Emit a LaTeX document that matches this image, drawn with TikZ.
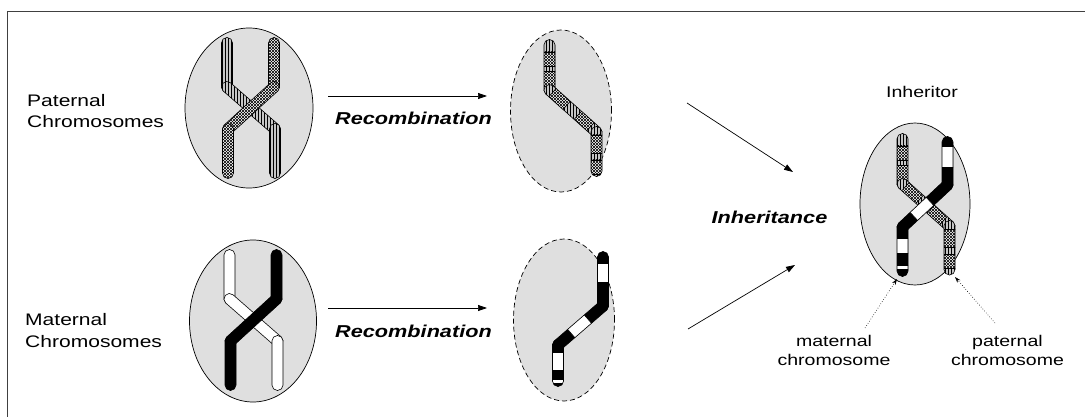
\documentclass[tikz,border=0pt]{standalone}
\usepackage{fontspec}
\setmainfont{Liberation Sans}[FakeStretch=1.26]
\usetikzlibrary{shapes.geometric,patterns,arrows.meta}

% One straight piece of a chromosome: a capsule from (#3,#4) to (#5,#6),
% filled with style #1, with bands of style #2 at the axis positions #7 (a/b list).
\newcommand\chseg[7]{%
  \pgfmathsetmacro\chang{atan2((#4)-(#6),(#5)-(#3))}%
  \pgfmathsetmacro\chlen{veclen((#5)-(#3),(#6)-(#4))}%
  \begin{scope}[shift={(#3,#4)},rotate=\chang]
    \begin{scope}
      \clip[rounded corners=5.4pt] (-5.5,-5.5) rectangle (\chlen+5.5,5.5);
      \fill[#1] (-7,-7) rectangle (\chlen+7,7);
      \foreach \ba/\bb in {#7}{%
        \fill[#2] (\ba,-7) rectangle (\bb,7);
        \draw[chedge] (\ba,-7) -- (\ba,7) (\bb,-7) -- (\bb,7);}
    \end{scope}
    \draw[chedge,rounded corners=5.4pt] (-5.5,-5.5) rectangle (\chlen+5.5,5.5);
  \end{scope}}

\tikzset{
  frame/.style={draw=black!75, line width=1pt},
  cell/.style={ellipse, draw=black, line width=0.7pt, fill=gray!25, inner sep=0pt},
  recell/.style={cell, dash pattern=on 5pt off 3pt},
  stripefill/.style={fill=gray!45, postaction={pattern=vertical lines}},
  crossfill/.style={fill=white, postaction={pattern=north east lines}, postaction={pattern=north west lines}},
  blackfill/.style={fill=black},
  whitefill/.style={fill=white},
  chedge/.style={draw=black, line width=0.6pt},
  flow/.style={draw=black, line width=0.7pt, -{Triangle[length=9pt,width=6pt]}},
  pointer/.style={draw=black, line width=0.6pt, dotted, -{Stealth[length=6pt,width=4pt]}},
  lbl/.style={font=\fontsize{16.7}{21}\selectfont, inner sep=0pt},
  small/.style={font=\fontsize{15.5}{19}\selectfont, inner sep=0pt},
  act/.style={font=\fontsize{17.2}{21}\selectfont\bfseries\itshape, inner sep=0pt},
}

\begin{document}
\begin{tikzpicture}[x=1pt,y=-1pt]
\useasboundingbox (0,0) rectangle (1085,417);

% frame
\draw[frame] (7,417) -- (7,12) -- (1085,12);

% cells
\node[cell, minimum width=128pt, minimum height=160pt] (pat) at (249,108) {};
\node[cell, minimum width=127pt, minimum height=162pt] (mat) at (253,321) {};
\node[recell, minimum width=101pt, minimum height=162pt] (prec) at (561,111) {};
\node[recell, minimum width=101pt, minimum height=162pt] (mrec) at (564,320) {};
\node[cell, minimum width=110pt, minimum height=162pt] (inh) at (915,204) {};

% paternal pair
\chseg{stripefill}{stripefill}{227}{43}{227}{87}{-60/-59}
\chseg{stripefill}{stripefill}{227}{87}{275}{129}{-60/-59}
\chseg{stripefill}{stripefill}{275}{129}{275}{173}{-60/-59}
\chseg{crossfill}{crossfill}{274}{43}{274}{87}{-60/-59}
\chseg{crossfill}{crossfill}{274}{87}{228}{129}{-60/-59}
\chseg{crossfill}{crossfill}{228}{129}{228}{173}{-60/-59}

% maternal pair
\chseg{whitefill}{whitefill}{229.5}{255}{229.5}{299}{-60/-59}
\chseg{whitefill}{whitefill}{229.5}{299}{277.5}{341}{-60/-59}
\chseg{whitefill}{whitefill}{277.5}{341}{277.5}{385}{-60/-59}
\chseg{blackfill}{blackfill}{276.5}{255}{276.5}{299}{-60/-59}
\chseg{blackfill}{blackfill}{276.5}{299}{230.5}{341}{-60/-59}
\chseg{blackfill}{blackfill}{230.5}{341}{230.5}{385}{-60/-59}

% recombined paternal chromosome
\chseg{stripefill}{crossfill}{549.5}{45}{549.5}{90}{7/21.7,26.7/41}
\chseg{stripefill}{crossfill}{549.5}{90}{596.5}{132}{4/23,38/55}
\chseg{stripefill}{crossfill}{596.5}{132}{596.5}{171}{3/21,28/42}

% recombined maternal chromosome
\chseg{blackfill}{whitefill}{603}{257}{603}{306}{6/25}
\chseg{blackfill}{whitefill}{603}{306}{558}{345}{20/42}
\chseg{blackfill}{whitefill}{558}{345}{558}{381}{7/25,34/38.5}

% inherited pair
\chseg{stripefill}{crossfill}{902.5}{139}{902.5}{184}{7/21.7,26.7/41}
\chseg{stripefill}{crossfill}{902.5}{184}{949.5}{226}{4/23,38/55}
\chseg{stripefill}{crossfill}{949.5}{226}{949.5}{269.5}{3/21,28/42}
\chseg{blackfill}{whitefill}{947.5}{142}{947.5}{185}{4/25}
\chseg{blackfill}{whitefill}{947.5}{185}{902.5}{227}{24/46}
\chseg{blackfill}{whitefill}{902.5}{227}{902.5}{271}{11/26,38/42.5}

% labels
\node[lbl, anchor=base west] (patlbl) at (27,107) {Paternal};
\node[lbl, anchor=base west] (patlblb) at (27,128) {Chromosomes};
\node[lbl, anchor=base west] (matlbl) at (25,325) {Maternal};
\node[lbl, anchor=base west] (matlblb) at (25,347) {Chromosomes};
\node[act, anchor=base] (rec1) at (413.5,125) {Recombination};
\node[act, anchor=base] (rec2) at (413.5,337) {Recombination};
\node[act, anchor=base] (inhlbl) at (769.5,223) {Inheritance};
\node[small, anchor=base west] (heir) at (886,98) {Inheritor};
\node[small, anchor=base] (mlab) at (834,346) {maternal};
\node[small, anchor=base] (mlabb) at (834,365) {chromosome};
\node[small, anchor=base] (plab) at (1007.5,346) {paternal};
\node[small, anchor=base] (plabb) at (1007.5,365) {chromosome};

% arrows
\coordinate (r1a) at (328,96);  \coordinate (r1b) at (487,96);
\coordinate (r2a) at (328,308); \coordinate (r2b) at (487,308);
\coordinate (i1a) at (687,103); \coordinate (i1b) at (793,172);
\coordinate (i2a) at (688,329); \coordinate (i2b) at (795,265);
\coordinate (d1a) at (865,328); \coordinate (d1b) at (897,279);
\coordinate (d2a) at (995,323); \coordinate (d2b) at (955,277);
\draw[flow] (r1a) -- (r1b);
\draw[flow] (r2a) -- (r2b);
\draw[flow] (i1a) -- (i1b);
\draw[flow] (i2a) -- (i2b);
\draw[pointer] (d1a) -- (d1b);
\draw[pointer] (d2a) -- (d2b);
\end{tikzpicture}
\end{document}
